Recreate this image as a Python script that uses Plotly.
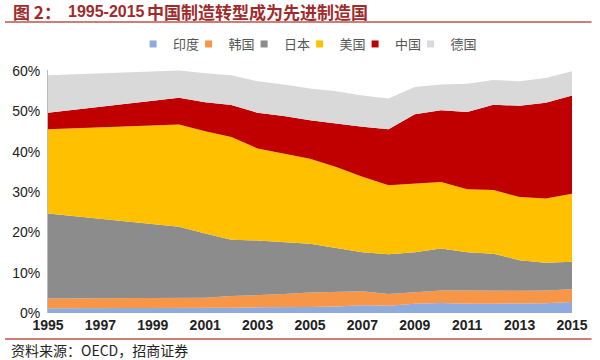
import plotly.graph_objects as go

years = [1995, 2000, 2001, 2002, 2003, 2004, 2005, 2006, 2007, 2008,
         2009, 2010, 2011, 2012, 2013, 2014, 2015]
india   = [1.2, 1.2, 1.3, 1.3, 1.4, 1.4, 1.5, 1.6, 1.9, 1.8, 2.3, 2.5, 2.3, 2.3, 2.3, 2.4, 2.7]
korea   = [2.4, 2.5, 2.5, 2.9, 3.0, 3.3, 3.6, 3.6, 3.5, 2.9, 2.8, 3.1, 3.3, 3.2, 3.2, 3.2, 3.2]
japan   = [21.1, 17.7, 15.9, 14.0, 13.6, 12.9, 12.1, 10.9, 9.7, 9.9, 10.0, 10.4, 9.5, 9.2, 7.6, 6.9, 6.8]
usa     = [20.9, 25.4, 25.4, 25.5, 22.8, 22.0, 21.1, 20.1, 18.7, 17.1, 17.0, 16.5, 15.6, 15.8, 15.7, 15.9, 16.9]
china   = [4.1, 6.6, 7.2, 7.9, 8.9, 9.3, 9.5, 10.8, 12.4, 13.9, 17.2, 17.8, 19.2, 21.2, 22.6, 23.8, 24.4]
germany = [9.3, 6.8, 7.2, 7.4, 7.8, 7.8, 7.9, 8.0, 7.8, 7.6, 6.8, 6.4, 7.0, 6.1, 6.1, 6.1, 6.0]

series_names = ["印度", "韩国", "日本", "美国", "中国", "德国"]
series_vals = [india, korea, japan, usa, china, germany]
colors = ["#8FAADC", "#F79646", "#8C8C8C", "#FFC000", "#C00000", "#D9D9D9"]

tick_years = list(range(1995, 2016, 2))
y_ticks = [0, 10, 20, 30, 40, 50, 60]

fig = go.Figure()
for name, vals, c in zip(series_names, series_vals, colors):
    fig.add_trace(go.Scatter(
        x=years, y=vals, name=name, mode="lines", stackgroup="one",
        line=dict(width=0, color=c), fillcolor=c, showlegend=False,
    ))
# legend entries as small squares
for name, c in zip(series_names, colors):
    fig.add_trace(go.Scatter(
        x=[None], y=[None], name=name, mode="markers",
        marker=dict(symbol="square", size=7, color=c), showlegend=True,
    ))
# invisible spacer entry so the last legend label is not clipped
fig.add_trace(go.Scatter(
    x=[None], y=[None], name=" ", mode="markers",
    marker=dict(symbol="square", size=7, color="rgba(0,0,0,0)"), showlegend=True,
    hoverinfo="skip",
))

L, R, T, B = 44, 20, 70, 47
pw = 600 - L - R
ph = 360 - T - B

def ypix(p):
    return 1 - (p - T) / ph

def xpix(p):
    return (p - L) / pw

fig.update_layout(
    width=600, height=360,
    margin=dict(l=L, r=R, t=T, b=B),
    paper_bgcolor="white", plot_bgcolor="white",
    font=dict(family="Liberation Sans, Arial, sans-serif", color="#222"),
    showlegend=True,
    legend=dict(orientation="h", x=xpix(330), xanchor="center", y=ypix(44), yanchor="middle",
                font=dict(size=13, color="#555", family="Noto Sans CJK SC"),
                itemwidth=30, entrywidth=10.5, entrywidthmode="pixels",
                traceorder="normal", bgcolor="rgba(0,0,0,0)"),
    xaxis=dict(range=[1995, 2015], tickvals=tick_years, ticktext=[str(t) for t in tick_years],
               showgrid=False, zeroline=False, showline=False,
               ticks="", tickfont=dict(size=14, color="#222", family="Liberation Sans", weight="bold"),
               ticklabelstandoff=2),
    yaxis=dict(range=[0, 60.3], tickvals=y_ticks, ticktext=[f"{v}%" for v in y_ticks],
               showgrid=False, zeroline=False, showline=True, linecolor="#BBB", linewidth=1,
               ticks="", ticklabelstandoff=4,
               tickfont=dict(size=14, color="#222", family="Liberation Sans")),
)

title_col = "#A12B2B"
fig.add_annotation(xref="paper", yref="paper", x=xpix(6), y=ypix(12),
                   xanchor="left", yanchor="middle", showarrow=False,
                   text="<b>图 2：</b>",
                   font=dict(size=17, color=title_col, family="Noto Sans CJK SC"))
fig.add_annotation(xref="paper", yref="paper", x=xpix(62), y=ypix(12),
                   xanchor="left", yanchor="middle", showarrow=False,
                   text="<b>1995-2015</b>",
                   font=dict(size=16, color=title_col, family="Liberation Sans"))
fig.add_annotation(xref="paper", yref="paper", x=xpix(143), y=ypix(12),
                   xanchor="left", yanchor="middle", showarrow=False,
                   text="<b>中国制造转型成为先进制造国</b>",
                   font=dict(size=17, color=title_col, family="Noto Sans CJK SC"))
fig.add_annotation(xref="paper", yref="paper", x=xpix(4), y=ypix(350),
                   xanchor="left", yanchor="middle", showarrow=False,
                   text="资料来源：OECD，招商证券",
                   font=dict(size=14, color="#222", family="Noto Sans CJK SC"))
for yp in (22, 339):
    fig.add_shape(type="line", xref="paper", yref="paper",
                  x0=xpix(0), x1=xpix(600), y0=ypix(yp), y1=ypix(yp),
                  line=dict(color="#C0504D", width=1.5))

fig.write_html("out.html", config={"displayModeBar": False},
               post_script="document.body.style.margin='0';")
